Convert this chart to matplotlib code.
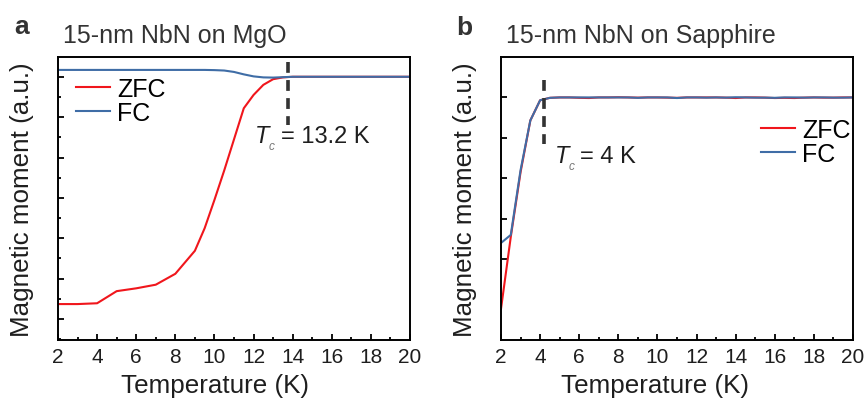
import matplotlib
matplotlib.use("Agg")
import matplotlib.pyplot as plt
from matplotlib.ticker import MultipleLocator, FixedLocator

plt.rcParams['font.family'] = ['Liberation Sans', 'DejaVu Sans']

# ---------------- data ----------------
# Panel a: 15-nm NbN on MgO
temp_a = [2, 3, 4, 5, 6, 7, 8, 9, 9.5, 10, 10.5, 11, 11.5, 12, 12.5, 13, 13.5, 14,
          15, 16, 17, 18, 19, 20]
zfc_a = [0.37, 0.37, 0.39, 0.69, 0.76, 0.85, 1.12, 1.69, 2.25, 2.95, 3.68, 4.45, 5.22,
         5.55, 5.80, 5.94, 5.985, 6.0, 6.0, 6.0, 6.0, 6.0, 6.0, 6.0]
fc_a = [6.17, 6.17, 6.17, 6.17, 6.17, 6.17, 6.17, 6.17, 6.17, 6.165, 6.155, 6.12, 6.06,
        6.01, 5.985, 5.98, 5.99, 6.0, 6.0, 6.0, 6.0, 6.0, 6.0, 6.0]
tc_a_line = 13.77
tc_a_value = '13.2 K'

# Panel b: 15-nm NbN on Sapphire
temp_b = [2, 2.5, 3, 3.5, 4, 4.5, 5, 5.5, 6, 6.5, 7, 7.5, 8, 8.5, 9, 9.5, 10, 10.5, 11,
          11.5, 12, 12.5, 13, 13.5, 14, 14.5, 15, 15.5, 16, 16.5, 17, 17.5, 18, 18.5,
          19, 19.5, 20]
zfc_b = [0.77, 2.55, 4.15, 5.43, 5.93, 5.99, 6.0, 6.0, 5.99, 5.985, 6.0, 6.0, 6.005,
         6.0, 5.995, 6.0, 6.0, 5.995, 5.99, 6.0, 6.0, 6.0, 6.0, 5.995, 5.985, 6.0, 6.0,
         5.995, 5.985, 5.99, 5.985, 5.995, 6.0, 5.995, 5.995, 6.0, 6.0]
fc_b = [2.40, 2.60, 4.20, 5.43, 5.93, 5.99, 6.0, 6.0, 6.0, 6.0, 6.0, 6.0, 6.0, 6.0,
        5.99, 6.0, 6.0, 6.0, 5.985, 6.0, 6.0, 5.995, 6.0, 5.995, 6.005, 6.0, 5.995,
        5.995, 5.99, 6.0, 6.0, 5.995, 6.0, 6.0, 5.995, 5.995, 6.0]
tc_b_line = 4.18
tc_b_value = '4 K'

x_ticks = [2, 4, 6, 8, 10, 12, 14, 16, 18, 20]

RED = '#f0161c'
BLUE = '#3f6da6'
DARK = '#333333'
TXT = '#1e1e1e'

fig = plt.figure(figsize=(8.64, 4.02), dpi=100)
W, H = 864, 402

def axes_px(l, r, t, b):
    return fig.add_axes([l / W, (H - b) / H, (r - l) / W, (b - t) / H])

axa = axes_px(58, 410, 58, 341)
axb = axes_px(501, 853, 58, 341)

def style(ax):
    for s in ax.spines.values():
        s.set_linewidth(1.4)
        s.set_color('black')
    ax.tick_params(axis='both', which='both', direction='in', top=False, right=False,
                   width=1.3, labelsize=15, colors='black')
    ax.tick_params(axis='both', which='major', length=4)
    ax.tick_params(axis='both', which='minor', length=2.2)
    ax.tick_params(axis='x', pad=5, labelcolor=TXT)
    ax.set_xlim(2, 20)
    ax.xaxis.set_major_locator(FixedLocator(x_ticks))
    ax.xaxis.set_minor_locator(MultipleLocator(1))

def tc_label(ax, x, y, value):
    inv = ax.transData.inverted()
    t = ax.text(x, y, 'T', fontsize=17, style='italic', color=TXT, ha='left', va='baseline')
    fig.canvas.draw()
    x1 = inv.transform((t.get_window_extent().x1, 0))[0]
    c = ax.text(x1 - 0.02, y - 0.17, 'c', fontsize=8.5, style='italic', color='#777777',
                ha='left', va='baseline')
    fig.canvas.draw()
    x2 = inv.transform((c.get_window_extent().x1, 0))[0]
    ax.text(x2 + 0.3, y, '= ' + value, fontsize=17, color=TXT, ha='left', va='baseline')

leg_kw = dict(loc='upper left', frameon=False, fontsize=18, handlelength=1.35,
              handletextpad=0.3, labelspacing=0.0, borderpad=0, borderaxespad=0)

# Panel a
axa.plot(temp_a, zfc_a, color=RED, lw=1.5, label='ZFC')
axa.plot(temp_a, fc_a, color=BLUE, lw=1.5, label='FC')
axa.plot([tc_a_line, tc_a_line], [6.36, 4.8], color=DARK, lw=2.6, ls=(0, (3.0, 2.0)))
style(axa)
axa.set_ylim(-0.52, 6.49)
axa.yaxis.set_major_locator(FixedLocator([0, 1, 2, 3, 4, 5, 6]))
axa.yaxis.set_minor_locator(FixedLocator([-0.5, 0.5, 1.5, 2.5, 3.5, 4.5, 5.5]))
axa.set_yticklabels([])
axa.legend(bbox_to_anchor=(0.051, 0.93), **leg_kw)

# Panel b
axb.plot(temp_b, zfc_b, color=RED, lw=1.5, label='ZFC')
axb.plot(temp_b, fc_b, color=BLUE, lw=1.5, label='FC')
axb.plot([tc_b_line, tc_b_line], [6.42, 4.85], color=DARK, lw=2.6, ls=(0, (3.0, 2.0)))
style(axb)
axb.set_ylim(0, 7)
axb.yaxis.set_major_locator(FixedLocator([2, 3, 4, 5, 6]))
axb.yaxis.set_minor_locator(FixedLocator([]))
axb.set_yticklabels([])
axb.legend(bbox_to_anchor=(0.739, 0.785), **leg_kw)

tc_label(axa, 12.08, 4.39, tc_a_value)
tc_label(axb, 4.74, 4.40, tc_b_value)

def fx(px):
    return px / W

def fy(py):
    return (H - py) / H

fig.text(fx(63), fy(43.5), '15-nm NbN on MgO', fontsize=18, color=DARK, ha='left', va='baseline')
fig.text(fx(506), fy(43.5), '15-nm NbN on Sapphire', fontsize=18, color=DARK, ha='left', va='baseline')
fig.text(fx(14), fy(33.5), 'a', fontsize=19, fontweight='bold', color=DARK, ha='left', va='baseline')
fig.text(fx(456), fy(35), 'b', fontsize=19, fontweight='bold', color=DARK, ha='left', va='baseline')

fig.text(fx(22), fy(200), 'Magnetic moment (a.u.)', fontsize=18.7, rotation=90,
         ha='center', va='center', color=TXT)
fig.text(fx(465), fy(200), 'Magnetic moment (a.u.)', fontsize=18.7, rotation=90,
         ha='center', va='center', color=TXT)
fig.text(fx(215), fy(386), 'Temperature (K)', fontsize=18.7, ha='center', va='center', color=TXT)
fig.text(fx(655), fy(386), 'Temperature (K)', fontsize=18.7, ha='center', va='center', color=TXT)

fig.savefig('out.png', dpi=100)
